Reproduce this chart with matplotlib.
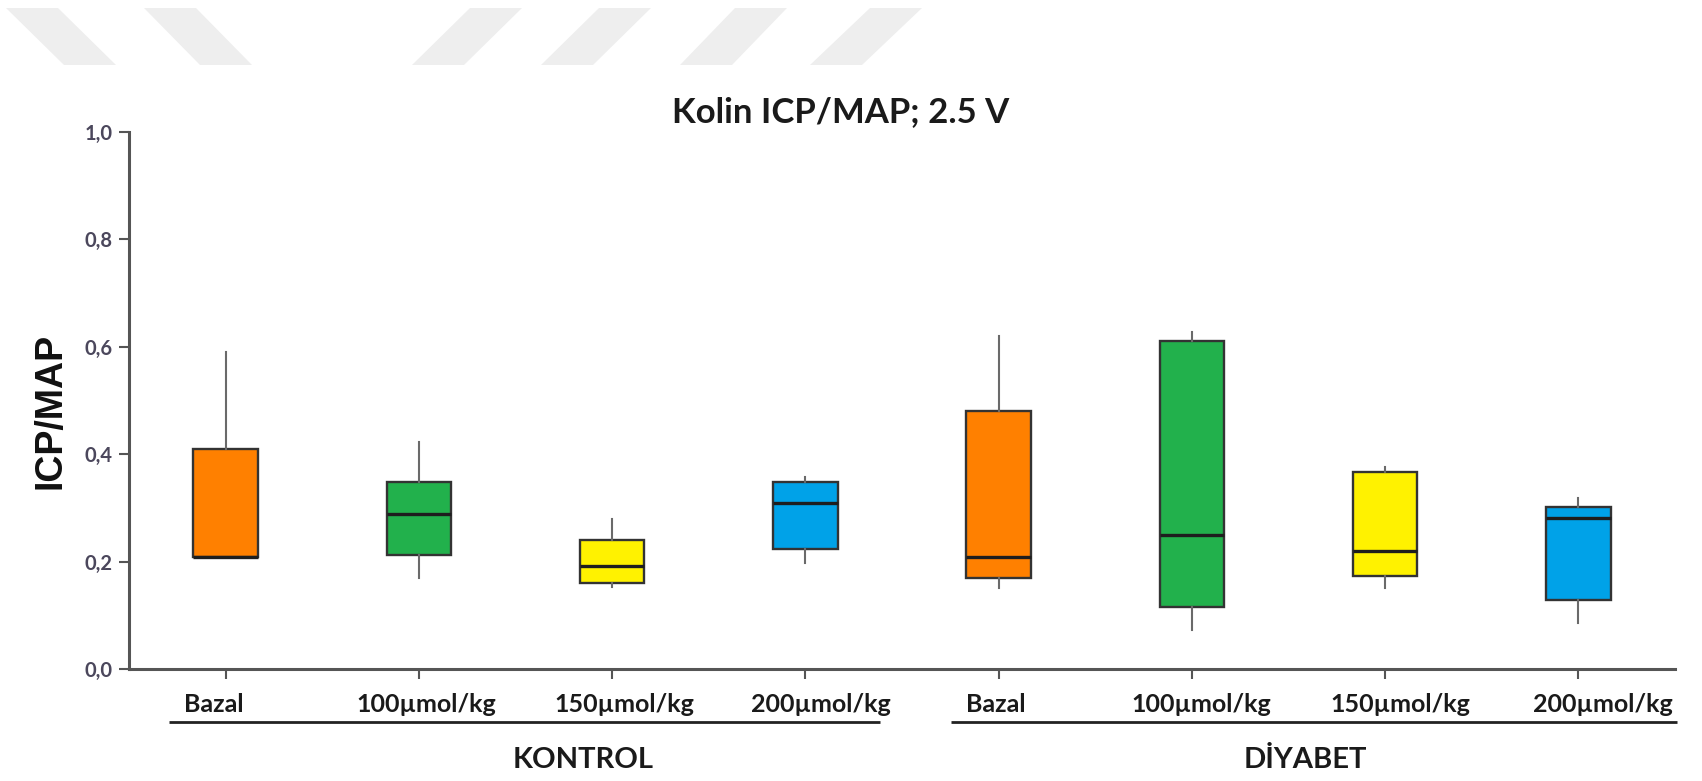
"""Kolin ICP/MAP; 2.5 V box plot (Kontrol vs Diyabet)."""

import matplotlib

matplotlib.use("Agg")
import matplotlib.pyplot as plt
import matplotlib.transforms as mtransforms
from matplotlib.patches import Polygon

# Box plot summary values
categories = ["Bazal", "100µmol/kg", "150µmol/kg", "200µmol/kg",
              "Bazal", "100µmol/kg", "150µmol/kg", "200µmol/kg"]
groups = ["KONTROL", "DİYABET"]
whisker_low = [0.209, 0.169, 0.153, 0.197, 0.150, 0.073, 0.150, 0.085]
q1 = [0.209, 0.212, 0.161, 0.223, 0.169, 0.116, 0.173, 0.128]
median = [0.209, 0.289, 0.192, 0.309, 0.209, 0.250, 0.220, 0.281]
q3 = [0.409, 0.348, 0.240, 0.348, 0.480, 0.611, 0.366, 0.301]
whisker_high = [0.590, 0.423, 0.279, 0.357, 0.620, 0.627, 0.377, 0.319]
box_colors = ["#ff8000", "#22b14c", "#fff200", "#00a2e8"] * 2
y_ticks = [0.0, 0.2, 0.4, 0.6, 0.8, 1.0]
y_tick_labels = ["0,0", "0,2", "0,4", "0,6", "0,8", "1,0"]

_W, _H = 1702, 781
_AXIS = "#555555"
_TXT = "#1a1a1a"
# the original labels sit a little off their ticks (pixels, + = right)
_LABEL_SHIFT = [-12, 7, 12, 16, -3, 9, 15, 24]

fig = plt.figure(figsize=(_W / 100, _H / 100), dpi=100)
fig.patch.set_facecolor("white")
ax = fig.add_axes([129 / _W, 1 - 669 / _H, (1675 - 129) / _W, (669 - 132) / _H])

# faint diagonal watermark stripes along the top edge (pixel coords: top-left x, bottom-left x)
stripes = [(6, 64), (144, 200), (470, 412), (599, 541), (735, 680), (870, 810)]
for top_x, bot_x in stripes:
    pts = [(top_x, 8), (top_x + 52, 8), (bot_x + 52, 65), (bot_x, 65)]
    fig.patches.append(Polygon([(x / _W, 1 - y / _H) for x, y in pts], closed=True,
                               transform=fig.transFigure, facecolor="#eeeeee",
                               edgecolor="none", zorder=0))

stats = []
for i, lab in enumerate(categories):
    stats.append({"label": lab, "med": median[i], "q1": q1[i], "q3": q3[i],
                  "whislo": whisker_low[i], "whishi": whisker_high[i], "fliers": []})

positions = list(range(len(categories)))
bp = ax.bxp(stats, positions=positions, widths=0.335, patch_artist=True,
            showcaps=False, showfliers=False,
            boxprops=dict(edgecolor="#333333", linewidth=1.7),
            whiskerprops=dict(color="#6a6a6a", linewidth=1.5),
            medianprops=dict(color="#1e1e1e", linewidth=2.4))
for patch, c in zip(bp["boxes"], box_colors):
    patch.set_facecolor(c)

ax.set_xlim(-0.5, len(categories) - 0.5)
ax.set_ylim(0, 1.0)
ax.set_yticks(y_ticks)
ax.set_yticklabels(y_tick_labels)
ax.set_xticks(positions)
ax.set_xticklabels(categories)

for spine in ("top", "right"):
    ax.spines[spine].set_visible(False)
for spine in ("left", "bottom"):
    ax.spines[spine].set_color(_AXIS)
    ax.spines[spine].set_linewidth(2.2)

ax.tick_params(axis="both", direction="out", length=7, width=1.5, color=_AXIS)
ax.tick_params(axis="x", pad=10)
ax.tick_params(axis="y", pad=5)
for t, dx in zip(ax.get_xticklabels(), _LABEL_SHIFT):
    t.set_fontfamily("Lato")
    t.set_fontweight("bold")
    t.set_fontsize(18)
    t.set_color(_TXT)
    t.set_transform(t.get_transform() + mtransforms.ScaledTranslation(dx / 100, 0, fig.dpi_scale_trans))
for t in ax.get_yticklabels():
    t.set_fontfamily("Lato")
    t.set_fontweight("bold")
    t.set_fontsize(14.5)
    t.set_color("#4b475c")

ax.set_ylabel("ICP/MAP", fontfamily="Liberation Sans", fontweight="bold",
              fontsize=27, color="#111111")
ax.yaxis.set_label_coords(-0.039, 0.48)

# group brackets under the tick labels
bracket_spans = [(0.026, 0.486), (0.532, 1.001)]
label_x = [0.294, 0.761]
for (x0, x1), gx, name in zip(bracket_spans, label_x, groups):
    ax.plot([x0, x1], [-0.099, -0.099], transform=ax.transAxes, color="#222222",
            linewidth=2, clip_on=False, solid_capstyle="butt")
    ax.text(gx, -0.17, name, transform=ax.transAxes, ha="center", va="center",
            fontfamily="Lato", fontweight="bold", fontsize=21, color=_TXT)

fig.text(841 / _W, 1 - 112 / _H, "Kolin ICP/MAP; 2.5 V", ha="center", va="center",
         fontfamily="Lato", fontweight="bold", fontsize=25, color=_TXT)

fig.savefig("out.png", dpi=100, facecolor="white")
plt.close(fig)
